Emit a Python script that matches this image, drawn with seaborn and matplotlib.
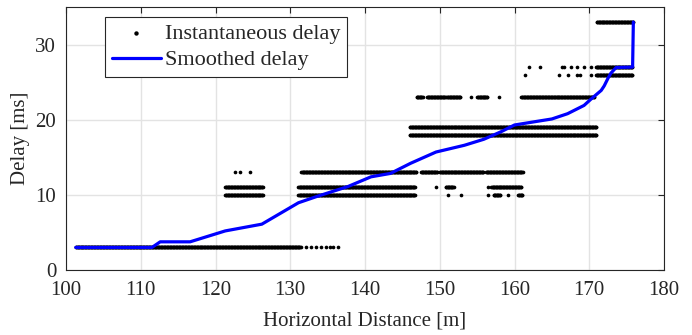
import numpy as np
import pandas as pd
import matplotlib
matplotlib.use('Agg')
import matplotlib.pyplot as plt
import seaborn as sns

# dense runs of instantaneous delay samples: (delay level, x start, x end)
run_level = [3, 11, 10, 13, 11, 10, 13, 13, 13, 11, 11, 10, 19, 18,
             23, 23, 23, 23, 23, 27, 26, 33, 10]
run_start = [101.3, 121.3, 121.3, 131.5, 131.1, 131.1, 147.5, 150.0, 156.2, 150.8, 156.9, 157.2, 146.0, 146.0,
             146.9, 148.3, 151.0, 155.0, 160.9, 170.9, 170.9, 171.0, 160.5]
run_end = [131.4, 126.4, 126.4, 146.9, 146.7, 146.7, 149.7, 155.9, 161.1, 151.9, 160.9, 158.1, 171.0, 171.0,
           147.7, 150.8, 152.8, 156.4, 170.7, 175.8, 175.8, 175.9, 161.1]

# isolated samples
iso_x = [132.1, 132.8, 133.5, 134.1, 134.8, 135.3, 135.7, 136.4,
         122.6, 123.3, 124.6,
         149.5, 156.4,
         151.1, 152.9, 156.5, 159.1,
         154.2, 157.9,
         162.0, 163.4, 166.3, 166.6, 167.6, 168.4, 169.3, 170.2,
         161.4, 166.0, 167.1, 168.4, 168.8, 170.2]
iso_y = [3, 3, 3, 3, 3, 3, 3, 3,
         13, 13, 13,
         11, 11,
         10, 10, 10, 10,
         23, 23,
         27, 27, 27, 27, 27, 27, 27, 27,
         26, 26, 26, 26, 26, 26]

# smoothed delay
smooth_x = [101.3, 111.5, 112.6, 116.6, 121.3, 126.2, 131.1, 133.6, 137.7, 140.8, 143.4, 146.1,
            149.5, 153.3, 155.9, 158.2, 160.0, 165.0, 167.1, 169.3, 170.3, 171.6, 172.0, 172.5,
            172.9, 173.6, 175.8, 175.9]
smooth_y = [3, 3, 3.75, 3.75, 5.2, 6.1, 8.95, 9.8, 11.1, 12.4, 12.85, 14.2,
            15.7, 16.6, 17.4, 18.4, 19.3, 20.1, 20.8, 21.9, 22.8, 23.9, 24.5, 25.5,
            26.2, 26.95, 27.0, 33]

xs, ys = [], []
for lv, a, b in zip(run_level, run_start, run_end):
    pts = np.arange(a, b + 0.001, 0.08)
    xs.extend(pts)
    ys.extend([lv] * len(pts))
xs.extend(iso_x)
ys.extend(iso_y)
inst = pd.DataFrame({'x': xs, 'y': ys})
smooth = pd.DataFrame({'x': smooth_x, 'y': smooth_y})

sns.set_style('whitegrid')
plt.rcParams['font.family'] = ['Liberation Serif', 'DejaVu Serif']

fig = plt.figure(figsize=(6.92, 3.35), dpi=100)
ax = fig.add_axes([66/692, 65/335, 598/692, 263/335])

sns.scatterplot(data=inst, x='x', y='y', ax=ax, color='black', s=7, linewidth=0,
                marker='o', label='Instantaneous delay', zorder=2)
sns.lineplot(data=smooth, x='x', y='y', ax=ax, color='#0000ff', lw=2.3, sort=False,
             estimator=None, label='Smoothed delay', zorder=3)

ax.set_xlim(100, 180)
ax.set_ylim(0, 35)
ax.set_xticks(range(100, 181, 10))
ax.set_yticks([0, 10, 20, 30])
ax.set_xlabel('Horizontal Distance [m]', fontsize=15, labelpad=8)
ax.set_ylabel('Delay [ms]', fontsize=15)
ax.yaxis.set_label_coords(-0.06, 0.5)
ax.tick_params(labelsize=15, direction='in', length=4, width=0.8, color='#262626',
               top=True, right=True)
ax.tick_params(axis='x', pad=8)
ax.tick_params(axis='y', pad=7)
ax.grid(True, color='#e3e3e3', linewidth=1)
for sp in ax.spines.values():
    sp.set_color('#262626')
    sp.set_linewidth(0.8)

h, l = ax.get_legend_handles_labels()
leg = ax.legend(h, l, loc='upper left', bbox_to_anchor=(105/692, 1 - 17/335),
                bbox_transform=fig.transFigure, borderaxespad=0, fontsize=16,
                fancybox=False, framealpha=1, edgecolor='#262626', handlelength=2.2,
                handletextpad=0.2, labelspacing=0.25, borderpad=0.3, markerscale=1.2)
leg.get_frame().set_linewidth(0.8)

fig.savefig('out.png', dpi=100)
